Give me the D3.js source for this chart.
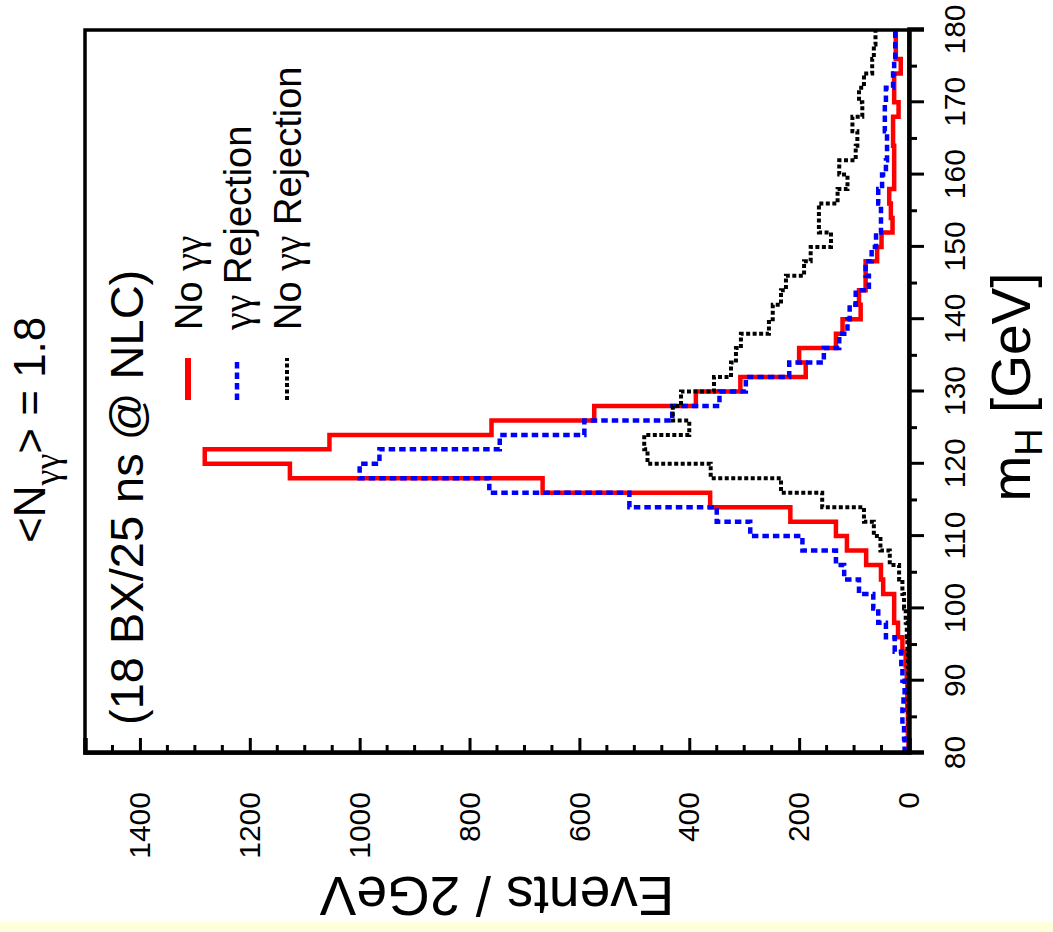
<!DOCTYPE html>
<html lang="en">
<head>
<meta charset="UTF-8">
<script src="https://d3js.org/d3.v7.min.js"></script>
<title>m_H spectrum</title>
<style>
  body { margin: 0; background: #fff; }
  svg text { font-family: "Liberation Sans", Arial, sans-serif; fill: #000; }
  .greek { font-family: "Liberation Serif", "DejaVu Serif", serif; }
</style>
</head>
<body>
<svg id="chart" width="1053" height="932"></svg>
<script>
// bin lower edges, 2 GeV bins
const binLow = [80, 82, 84, 86, 88, 90, 92, 94, 96, 98,
                100, 102, 104, 106, 108, 110, 112, 114, 116, 118,
                120, 122, 124, 126, 128, 130, 132, 134, 136, 138,
                140, 142, 144, 146, 148, 150, 152, 154, 156, 158,
                160, 162, 164, 166, 168, 170, 172, 174, 176, 178];

const noGamma = [1, 2, 2, 3, 3, 4, 6, 12, 20, 27,
                 27, 47, 51, 78, 113, 133, 216, 362, 667, 1127,
                 1282, 1055, 760, 573, 388, 307, 188, 200, 133, 121,
                 88, 91, 79, 79, 58, 50, 30, 33, 36, 27,
                 27, 27, 29, 29, 19, 27, 27, 15, 24, 24];

const gammaRejection = [8, 9, 12, 10, 8, 12, 14, 26, 42, 56,
                        65, 91, 118, 133, 194, 289, 350, 509, 764, 1000,
                        964, 745, 591, 431, 345, 297, 218, 155, 127, 112,
                        108, 97, 73, 79, 68, 60, 51, 51, 56, 49,
                        42, 40, 40, 44, 44, 42, 29, 27, 25, 25];

const noGammaRejection = [0, 0, 1, 1, 1, 1, 2, 3, 4, 6,
                          9, 12, 18, 35, 52, 64, 82, 158, 233, 361,
                          476, 482, 400, 430, 415, 355, 324, 315, 306, 255,
                          248, 233, 224, 191, 179, 142, 164, 164, 130, 112,
                          127, 97, 94, 103, 85, 91, 82, 67, 64, 61];

const massTicks = [80, 90, 100, 110, 120, 130, 140, 150, 160, 170, 180];
const massMinor = [85, 95, 105, 115, 125, 135, 145, 155, 165, 175];
const eventTicks = [0, 200, 400, 600, 800, 1000, 1200, 1400];
const eventMinor = [50, 100, 150, 250, 300, 350, 450, 500, 550, 650, 700, 750,
                    850, 900, 950, 1050, 1100, 1150, 1250, 1300, 1350, 1450];

const series = [
  { name: "No ", greek: "γγ", after: "", values: noGamma, color: "#ff0000", width: 4.5, dash: null },
  { name: "", greek: "γγ", after: " Rejection", values: gammaRejection, color: "#0000ff", width: 4.5, dash: "6.5,4" },
  { name: "No ", greek: "γγ", after: " Rejection", values: noGammaRejection, color: "#000000", width: 4, dash: "4,2.5" }
];

const svg = d3.select("#chart");

// pale strip at the bottom of the page
svg.append("rect").attr("x", 0).attr("y", 922).attr("width", 1053).attr("height", 10)
  .attr("fill", "#ffffdc");

// the whole plot is drawn upright, then turned a quarter turn
const g = svg.append("g").attr("transform", "translate(0,932) rotate(-90)");

const x = d3.scaleLinear().domain([80, 180]).range([179, 902]);
const y = d3.scaleLinear().domain([0, 1500]).range([909, 85]);

// histograms
const line = d3.line()
  .x(d => x(d[0]))
  .y(d => y(d[1]))
  .curve(d3.curveStepAfter);

series.forEach(s => {
  const pts = binLow.map((b, i) => [b, s.values[i]]);
  pts.push([180, s.values[s.values.length - 1]]);
  g.append("path")
    .attr("d", line(pts))
    .attr("fill", "none")
    .attr("stroke", s.color)
    .attr("stroke-width", s.width)
    .attr("stroke-dasharray", s.dash);
});

// frame
g.append("rect")
  .attr("x", x(80)).attr("y", y(1500))
  .attr("width", x(180) - x(80)).attr("height", y(0) - y(1500))
  .attr("fill", "none").attr("stroke", "#000").attr("stroke-width", 3.5);

// mass axis (ticks outside)
const xAxis = g.append("g")
  .attr("transform", `translate(0,${y(0)})`)
  .call(d3.axisBottom(x).tickValues(massTicks).tickSize(15).tickPadding(20).tickFormat(d3.format("d")));
xAxis.select(".domain").attr("stroke-width", 4.5);
xAxis.selectAll(".tick line").attr("stroke-width", 3);
xAxis.selectAll("text").attr("font-size", 30).attr("fill", "#000");
xAxis.selectAll(".minor").data(massMinor).join("line")
  .attr("class", "minor")
  .attr("x1", d => x(d)).attr("x2", d => x(d))
  .attr("y1", 0).attr("y2", 8)
  .attr("stroke", "#000").attr("stroke-width", 3);

// events axis (ticks inside)
const yAxis = g.append("g")
  .attr("transform", `translate(${x(80)},0)`)
  .call(d3.axisLeft(y).tickValues(eventTicks).tickSize(-15).tickPadding(39).tickFormat(d3.format("d")));
yAxis.select(".domain").attr("stroke-width", 4.5);
yAxis.selectAll(".tick line").attr("stroke-width", 3);
yAxis.selectAll("text").attr("font-size", 30).attr("fill", "#000");
yAxis.selectAll(".minor").data(eventMinor).join("line")
  .attr("class", "minor")
  .attr("y1", d => y(d)).attr("y2", d => y(d))
  .attr("x1", 0).attr("x2", 8)
  .attr("stroke", "#000").attr("stroke-width", 3);

// axis titles
const xt = g.append("text")
  .attr("x", 545).attr("y", 1030)
  .attr("text-anchor", "middle")
  .attr("font-size", 55);
xt.append("tspan").text("m");
xt.append("tspan").attr("font-size", 38).attr("dy", 12).text("H");
xt.append("tspan").attr("dy", -12).text(" [GeV]");

g.append("text")
  .attr("transform", `translate(55,${(y(0) + y(1500)) / 2}) rotate(-90)`)
  .attr("text-anchor", "middle")
  .attr("font-size", 55)
  .text("Events / 2GeV");

// title above the frame
const t1 = g.append("text").attr("x", 389).attr("y", 45).attr("font-size", 44);
t1.append("tspan").text("<N");
t1.append("tspan").attr("class", "greek").attr("font-size", 36).attr("dy", 14).text("γγ");
t1.append("tspan").attr("dy", -14).text("> = 1.8");

g.append("text").attr("x", 207).attr("y", 143).attr("font-size", 47)
  .text("(18 BX/25 ns @ NLC)");

// legend
const legendY = [188, 237, 287];
series.forEach((s, i) => {
  g.append("line")
    .attr("x1", 532).attr("x2", 574)
    .attr("y1", legendY[i]).attr("y2", legendY[i])
    .attr("stroke", s.color)
    .attr("stroke-width", i === 0 ? 6 : s.width)
    .attr("stroke-dasharray", s.dash);
  const t = g.append("text").attr("x", 602).attr("y", legendY[i] + 14).attr("font-size", 38);
  t.append("tspan").text(s.name);
  t.append("tspan").attr("class", "greek").attr("font-size", 40).text(s.greek);
  t.append("tspan").text(s.after);
});
</script>
</body>
</html>
